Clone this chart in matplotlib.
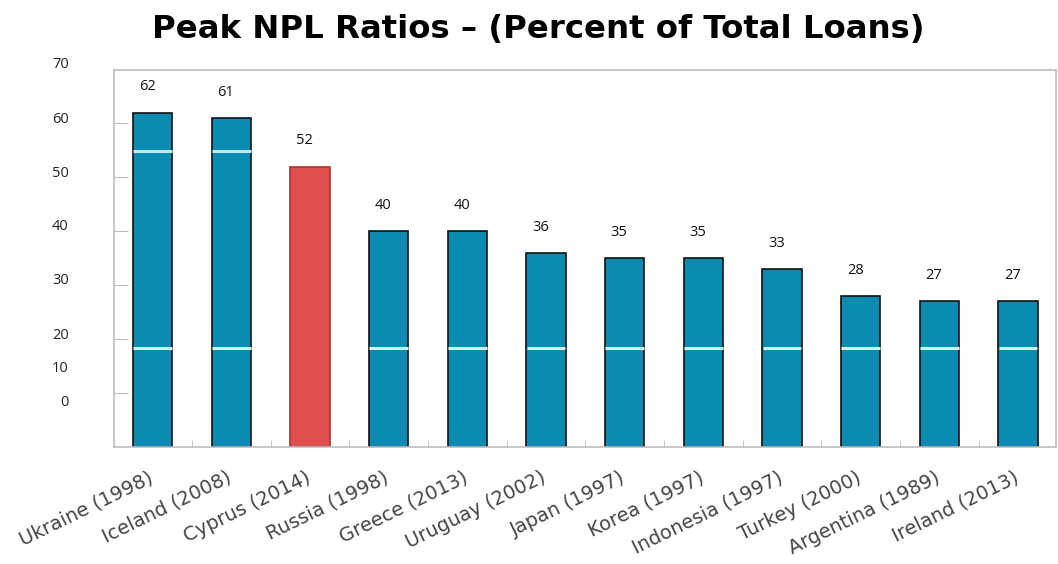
import matplotlib
matplotlib.use("Agg")
import matplotlib.pyplot as plt
import matplotlib.transforms as mtransforms
import numpy as np

countries = [
    'Ukraine (1998)', 'Iceland (2008)', 'Cyprus (2014)', 'Russia (1998)',
    'Greece (2013)', 'Uruguay (2002)', 'Japan (1997)', 'Korea (1997)',
    'Indonesia (1997)', 'Turkey (2000)', 'Argentina (1989)', 'Ireland (2013)'
]
npl_peak = [62, 61, 52, 40, 40, 36, 35, 35, 33, 28, 27, 27]
highlight = 'Cyprus (2014)'

# y labels sit a little off the tick marks
ytick_labels = ['70', '60', '50', '40', '30', '20', '10', '0']
ytick_label_pos = [71.0, 60.8, 50.8, 40.8, 30.8, 20.6, 14.5, 8.3]
ytick_marks = [10, 20, 30, 40, 50, 60]

blue = '#0b8bb1'
red = '#de4f4d'

fig = plt.figure(figsize=(10.58, 5.64), dpi=100)
ax = fig.add_axes([0.1078, 0.2074, 0.8902, 0.6684])

x = np.arange(len(countries))
colors = [red if c == highlight else blue for c in countries]
edges = ['#a83434' if c == highlight else '#111111' for c in countries]
bars = ax.bar(x, npl_peak, width=0.5, color=colors, edgecolor=edges, linewidth=1.2, zorder=2)

# pale streaks across the blue bars
for i, (c, v) in enumerate(zip(countries, npl_peak)):
    if c == highlight:
        continue
    ax.hlines(18.3, i - 0.245, i + 0.245, color='#d6f1f6', linewidth=2.2, zorder=3)
    if v > 55:
        ax.hlines(54.9, i - 0.245, i + 0.245, color='#c4e9f1', linewidth=2.2, zorder=3)

for b, v in zip(bars, npl_peak):
    ax.text(b.get_x() + b.get_width() / 2 - 0.07, v + 3.4, str(v),
            ha='center', va='bottom', fontsize=10.5, family='Open Sans', color='#111111')

ax.set_xlim(-0.49, 11.48)
ax.set_ylim(0, 69.9)

ax.set_xticks(x)
ax.set_xticklabels(countries, rotation=26, ha='right', rotation_mode='anchor',
                   fontsize=14, color='#454545')
ax.tick_params(axis='x', which='major', length=0, pad=15)
shift = mtransforms.ScaledTranslation(-5 / 100, 0, fig.dpi_scale_trans)
for lab in ax.get_xticklabels():
    lab.set_transform(lab.get_transform() + shift)
ax.set_xticks(x[:-1] + 0.5, minor=True)
ax.tick_params(axis='x', which='minor', direction='in', length=5, color='#bbbbbb')

ax.set_yticks(ytick_marks)
ax.set_yticklabels([])
ax.tick_params(axis='y', direction='in', length=10, color='#bbbbbb')
ylab_tf = ax.get_yaxis_transform()
for pos, lab in zip(ytick_label_pos, ytick_labels):
    ax.text(-0.048, pos, lab, transform=ylab_tf, ha='right', va='center',
            fontsize=10.5, family='Open Sans', color='#222222', clip_on=False)

for s in ax.spines.values():
    s.set_color('#bdbdbd')
    s.set_linewidth(1.2)

fig.suptitle('Peak NPL Ratios \u2013 (Percent of Total Loans)', x=0.509, y=0.976,
             fontsize=23.3, fontweight='bold', family='DejaVu Sans')

fig.savefig('out.png', dpi=100)
